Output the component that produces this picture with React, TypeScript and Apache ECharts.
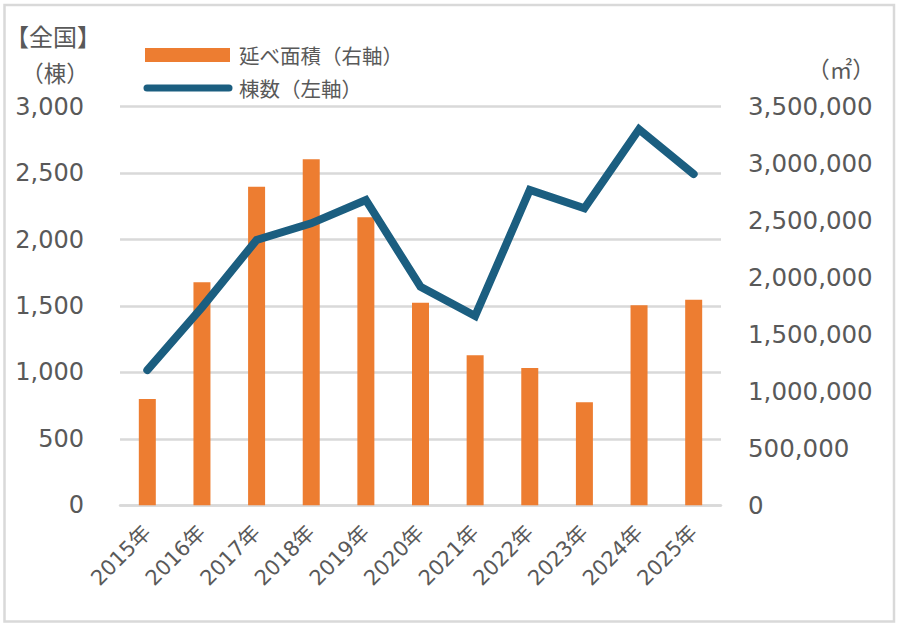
import React, { useEffect, useRef } from "react";
import * as echarts from "echarts";

// 年次カテゴリ
const years = [
  "2015年", "2016年", "2017年", "2018年", "2019年", "2020年",
  "2021年", "2022年", "2023年", "2024年", "2025年",
];

// 延べ面積（㎡）— 右軸
const floorArea = [
  933000, 1958000, 2797000, 3038000, 2529000, 1779000,
  1317000, 1206000, 904000, 1756000, 1805000,
];

// 棟数 — 左軸
const buildingCount = [
  1018, 1490, 1997, 2122, 2298, 1645, 1425, 2373, 2235, 2830, 2493,
];

const barName = "延べ面積（右軸）";
const lineName = "棟数（左軸）";

const TEXT = "#595959";
const GRID = "#d9d9d9";
const ORANGE = "#ED7D31";
const BLUE = "#1B5E80";
const FONT = "'DejaVu Sans', 'Noto Sans CJK JP', sans-serif";
const CJK = "'Noto Sans CJK JP', sans-serif";

const fmt = (v: number) => v.toLocaleString("en-US");

const label = (text: string, x: number, y: number, size: number, align = "center") => ({
  type: "text",
  x,
  y,
  silent: true,
  style: {
    text,
    font: `${size}px ${CJK}`,
    fill: TEXT,
    align,
    verticalAlign: "middle",
  },
});

export default function App() {
  const ref = useRef<HTMLDivElement>(null);

  useEffect(() => {
    if (!ref.current) return;
    const chart = echarts.init(ref.current, undefined, { renderer: "svg" });
    chart.setOption({
      animation: false,
      backgroundColor: "#ffffff",
      textStyle: { fontFamily: FONT, color: TEXT },
      grid: { left: 120, right: 179, top: 106.7, bottom: 124.7, containLabel: false },
      graphic: [
        // outer frame
        {
          type: "rect",
          silent: true,
          shape: { x: 4.5, y: 5, width: 889.5, height: 616.5 },
          style: { fill: "none", stroke: GRID, lineWidth: 2.5 },
        },
        // axis titles
        label("【全国】", 53, 35, 24),
        label("（棟）", 55, 72, 22.5),
        label("（㎡）", 841, 68, 22.5),
        // legend keys
        {
          type: "rect",
          silent: true,
          shape: { x: 145, y: 48, width: 85, height: 14 },
          style: { fill: ORANGE },
        },
        {
          type: "line",
          silent: true,
          shape: { x1: 147, y1: 88, x2: 229, y2: 88 },
          style: { stroke: BLUE, lineWidth: 7, lineCap: "round" },
        },
        label(barName, 239, 55, 20.5, "left"),
        label(lineName, 239, 88, 20.5, "left"),
      ],
      xAxis: {
        type: "category",
        data: years,
        axisLine: { show: true, lineStyle: { color: GRID, width: 2.5 } },
        axisTick: { show: false },
        axisLabel: {
          rotate: 45,
          margin: 24,
          fontSize: 21,
          color: TEXT,
          fontFamily: FONT,
        },
      },
      yAxis: [
        {
          type: "value",
          min: 0,
          max: 3000,
          interval: 500,
          axisLine: { show: false },
          axisTick: { show: false },
          splitLine: { show: true, lineStyle: { color: GRID, width: 2.5 } },
          axisLabel: {
            margin: 36,
            fontSize: 24,
            color: TEXT,
            fontFamily: FONT,
            formatter: (v: number) => fmt(v),
          },
        },
        {
          type: "value",
          min: 0,
          max: 3500000,
          interval: 500000,
          position: "right",
          axisLine: { show: false },
          axisTick: { show: false },
          splitLine: { show: false },
          axisLabel: {
            margin: 27,
            fontSize: 24.5,
            color: TEXT,
            fontFamily: FONT,
            formatter: (v: number) => fmt(v),
          },
        },
      ],
      series: [
        {
          name: barName,
          type: "bar",
          yAxisIndex: 1,
          data: floorArea,
          barWidth: 17,
          itemStyle: { color: ORANGE },
        },
        {
          name: lineName,
          type: "line",
          yAxisIndex: 0,
          data: buildingCount,
          symbol: "none",
          showSymbol: false,
          lineStyle: { color: BLUE, width: 8, cap: "round", join: "miter" },
          itemStyle: { color: BLUE },
        },
      ],
    });
    return () => chart.dispose();
  }, []);

  return (
    <div
      ref={ref}
      style={{ position: "fixed", left: 0, top: 0, width: 900, height: 630 }}
    />
  );
}
